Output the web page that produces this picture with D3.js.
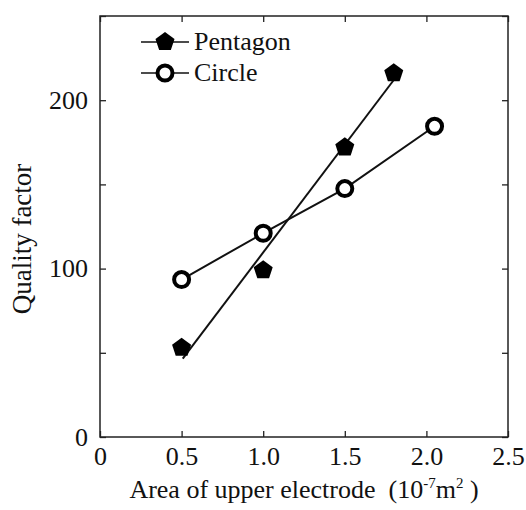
<!DOCTYPE html>
<html>
<head>
<meta charset="utf-8">
<script src="https://cdn.jsdelivr.net/npm/d3@7"></script>
<style>
  body { margin: 0; background: #fff; }
</style>
</head>
<body>
<div id="chart"></div>
<script>
// values
var pentArea = [0.5, 1.0, 1.5, 1.8];
var pentQ = [53, 99, 172, 216];
var circArea = [0.5, 1.0, 1.5, 2.05];
var circQ = [93.5, 121, 147.5, 184.5];
// straight fit line through the pentagon points (end points)
var fitArea = [0.507, 1.8];
var fitQ = [46.5, 212];

var xTicks = [0, 0.5, 1.0, 1.5, 2.0, 2.5];
var yTicks = [0, 50, 100, 150, 200, 250];
var yLabelled = [0, 100, 200];
var seriesNames = ["Pentagon", "Circle"];

var serif = "Liberation Serif";

var margin = {top: 16, right: 18, bottom: 73, left: 100},
    width = 526 - margin.left - margin.right,
    height = 510 - margin.top - margin.bottom;

var x = d3.scaleLinear().domain([0, 2.5]).range([0, width]);
var y = d3.scaleLinear().domain([0, 250]).range([height, 0]);

// filled pentagon, point up
var pentagon = {
    draw: function(context, size) {
        var r = Math.sqrt(size);
        for (var i = 0; i < 5; i++) {
            var a = -Math.PI / 2 + i * 2 * Math.PI / 5;
            if (i === 0) context.moveTo(r * Math.cos(a), r * Math.sin(a));
            else context.lineTo(r * Math.cos(a), r * Math.sin(a));
        }
        context.closePath();
    }
};
var pentPath = d3.symbol().type(pentagon).size(100)();

var svg = d3.select("#chart").append("svg")
    .attr("width", 526)
    .attr("height", 510);

var g = svg.append("g")
    .attr("transform", "translate(" + margin.left + "," + margin.top + ")");

// axes, ticks pointing inward
function fmtX(d) { return d === 0 ? "0" : d3.format(".1f")(d); }
function fmtY(d) { return yLabelled.indexOf(d) >= 0 ? d : ""; }

g.append("g")
    .attr("transform", "translate(0," + height + ")")
    .call(d3.axisBottom(x).tickValues(xTicks).tickFormat(fmtX)
        .tickSizeInner(-6).tickSizeOuter(0).tickPadding(10));
g.append("g")
    .call(d3.axisTop(x).tickValues(xTicks).tickFormat("")
        .tickSizeInner(-6).tickSizeOuter(0));
g.append("g")
    .call(d3.axisLeft(y).tickValues(yTicks).tickFormat(fmtY)
        .tickSizeInner(-6).tickSizeOuter(0).tickPadding(12));
g.append("g")
    .attr("transform", "translate(" + width + ",0)")
    .call(d3.axisRight(y).tickValues(yTicks).tickFormat("")
        .tickSizeInner(-6).tickSizeOuter(0));

g.selectAll(".domain").remove();
g.selectAll(".tick line").attr("stroke", "#222").attr("stroke-width", 1.3);
g.selectAll(".tick text")
    .attr("font-family", serif)
    .attr("font-size", 26)
    .attr("fill", "#111");

// frame
g.append("rect")
    .attr("width", width)
    .attr("height", height)
    .attr("fill", "none")
    .attr("stroke", "#222")
    .attr("stroke-width", 1.5);

// lines
var line = d3.line()
    .x(function(d) { return x(d[0]); })
    .y(function(d) { return y(d[1]); });

var fitData = d3.zip(fitArea, fitQ);
var pentData = d3.zip(pentArea, pentQ);
var circData = d3.zip(circArea, circQ);

g.append("path")
    .datum(fitData)
    .attr("d", line)
    .attr("fill", "none")
    .attr("stroke", "#111")
    .attr("stroke-width", 2);

g.append("path")
    .datum(circData)
    .attr("d", line)
    .attr("fill", "none")
    .attr("stroke", "#111")
    .attr("stroke-width", 2);

// markers
g.selectAll(".pent")
    .data(pentData)
    .enter().append("path")
    .attr("class", "pent")
    .attr("d", pentPath)
    .attr("transform", function(d) { return "translate(" + x(d[0]) + "," + y(d[1]) + ")"; })
    .attr("fill", "#000");

g.selectAll(".circ")
    .data(circData)
    .enter().append("circle")
    .attr("class", "circ")
    .attr("cx", function(d) { return x(d[0]); })
    .attr("cy", function(d) { return y(d[1]); })
    .attr("r", 7.5)
    .attr("fill", "#fff")
    .attr("stroke", "#000")
    .attr("stroke-width", 4);

// legend
var legend = svg.append("g");
var rowY = [42, 73];
seriesNames.forEach(function(name, i) {
    var row = legend.append("g").attr("transform", "translate(0," + rowY[i] + ")");
    row.append("line")
        .attr("x1", 141).attr("x2", 189)
        .attr("stroke", "#111").attr("stroke-width", 1.5);
    if (i === 0) {
        row.append("path").attr("d", pentPath)
            .attr("transform", "translate(165,0)").attr("fill", "#000");
    } else {
        row.append("circle").attr("cx", 165).attr("r", 7.5)
            .attr("fill", "#fff").attr("stroke", "#000").attr("stroke-width", 4);
    }
    row.append("text")
        .attr("x", 194).attr("y", 8)
        .attr("font-family", serif)
        .attr("font-size", 26)
        .attr("fill", "#111")
        .text(name);
});

// axis titles
var xt = svg.append("text")
    .attr("x", margin.left + width / 2)
    .attr("y", 498)
    .attr("text-anchor", "middle")
    .attr("font-family", serif)
    .attr("font-size", 26)
    .attr("fill", "#111");
xt.append("tspan").text("Area of upper electrode\u00a0\u00a0(10");
xt.append("tspan").attr("dy", -10).attr("font-size", 15).text("-7");
xt.append("tspan").attr("dy", 10).text("m");
xt.append("tspan").attr("dy", -10).attr("font-size", 15).text("2");
xt.append("tspan").attr("dy", 10).text("\u00a0)");

svg.append("text")
    .attr("transform", "translate(31," + (margin.top + 223) + ") rotate(-90)")
    .attr("text-anchor", "middle")
    .attr("font-family", serif)
    .attr("font-size", 27)
    .attr("fill", "#111")
    .text("Quality factor");
</script>
</body>
</html>
